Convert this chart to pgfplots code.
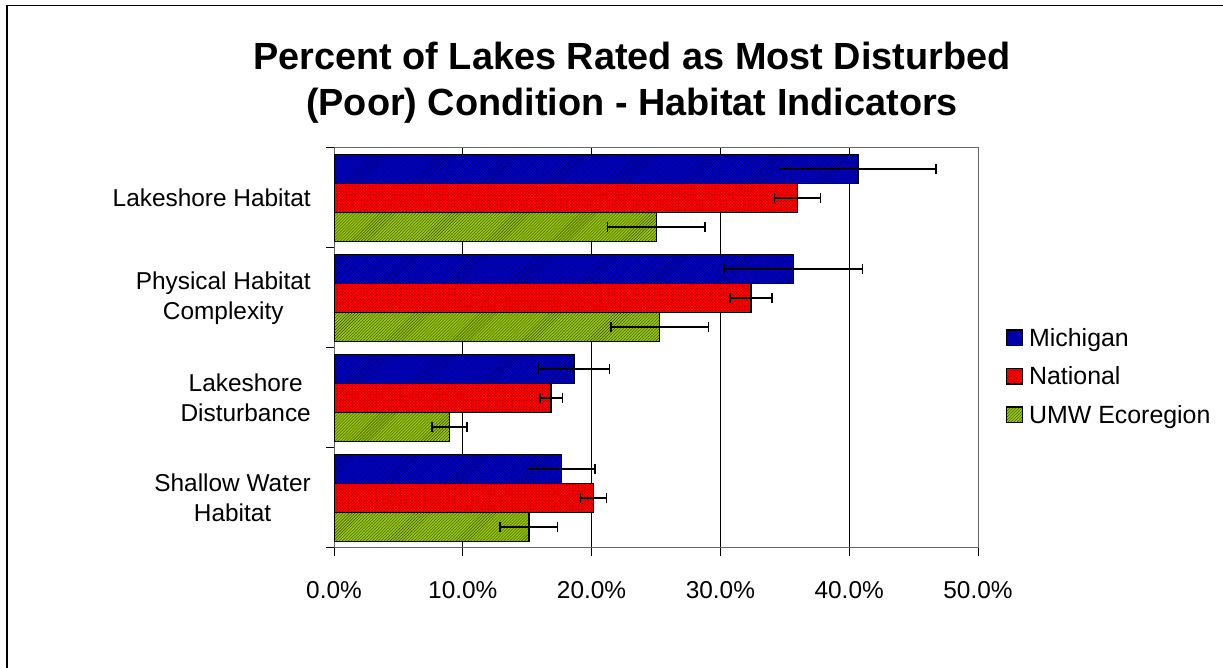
\documentclass[border=0pt]{standalone}
\usepackage{fontspec}
\setmainfont{Liberation Sans}
\usepackage{pgfplots}
\pgfplotsset{compat=1.18}
\usetikzlibrary{patterns}
\definecolor{mich}{RGB}{0,0,204}
\definecolor{michh}{RGB}{0,0,80}
\definecolor{natl}{RGB}{255,0,0}
\definecolor{natlh}{RGB}{120,0,0}
\definecolor{umw}{RGB}{153,204,0}
\definecolor{umwh}{RGB}{50,60,0}
\begin{document}
\begin{tikzpicture}
\useasboundingbox (0,0) rectangle (1223bp,668bp);
\draw[line width=1.3bp] (7bp,0) -- (7bp,662.5bp) -- (1223bp,662.5bp);
\node[align=center, font=\fontsize{38}{46}\selectfont\bfseries] at (632bp,585bp)
  {Percent of Lakes Rated as Most Disturbed\\(Poor) Condition - Habitat Indicators};
\begin{axis}[
  at={(334bp,120bp)}, anchor=south west, scale only axis,
  width=644bp, height=400bp,
  xbar, bar width=0.29,
  xmin=0, xmax=50, ymin=-0.5, ymax=3.5,
  xtick={0,10,20,30,40,50},
  xticklabels={0.0\%,10.0\%,20.0\%,30.0\%,40.0\%,50.0\%},
  ytick={-0.5,0.5,1.5,2.5,3.5},
  yticklabels={,,,,},
  extra y ticks={0,1,2,3},
  extra y tick labels={Shallow Water\\Habitat,Lakeshore\\Disturbance,Physical Habitat\\Complexity,Lakeshore Habitat},
  extra y tick style={major tick length=0pt},
  tick align=outside, major tick length=8bp,
  tick pos=left,
  xmajorgrids, grid style={black, line width=0.8bp},
  axis line style={black!60, line width=1bp},
  tick style={black, line width=1bp},
  ticklabel style={font=\fontsize{24.5}{30}\selectfont},
  yticklabel style={align=center, inner sep=0pt, xshift=-23bp},
  xticklabel style={inner sep=0pt, yshift=-25bp},
  legend cell align=left,
  legend style={at={(1.038,0.56)}, anchor=north west, draw=none, fill=none,
    font=\fontsize{25}{29}\selectfont, row sep=15bp, nodes={inner sep=2bp},
    /tikz/every odd column/.append style={column sep=4bp}},
  legend image code/.code={\draw[#1, line width=1.5bp] (0bp,-7.5bp) rectangle (16bp,8bp);},
  error bars/error mark=|,
]
\addplot[draw=black, line width=1.5bp, fill=mich, postaction={pattern=north east lines, pattern color=michh}, bar shift=0.29,
  error bars/.cd, x dir=both, x explicit, error mark=|, error bar style={black, line width=1.5bp}, error mark options={black, line width=1.5bp, mark size=5bp}]
  coordinates {(40.67,3) +- (6.07,0) (35.66,2) +- (5.37,0) (18.63,1) +- (2.75,0) (17.65,0) +- (2.62,0)};
\addlegendentry{Michigan}
\addplot[draw=black, line width=1.5bp, fill=natl, postaction={pattern=crosshatch dots, pattern color=natlh}, bar shift=0,
  error bars/.cd, x dir=both, x explicit, error mark=|, error bar style={black, line width=1.5bp}, error mark options={black, line width=1.5bp, mark size=5bp}]
  coordinates {(35.99,3) +- (1.80,0) (32.38,2) +- (1.62,0) (16.86,1) +- (0.87,0) (20.14,0) +- (1.00,0)};
\addlegendentry{National}
\addplot[draw=black, line width=1.5bp, fill=umw, postaction={pattern=north east lines, pattern color=umwh}, bar shift=-0.29,
  error bars/.cd, x dir=both, x explicit, error mark=|, error bar style={black, line width=1.5bp}, error mark options={black, line width=1.5bp, mark size=5bp}]
  coordinates {(25.02,3) +- (3.78,0) (25.28,2) +- (3.78,0) (8.97,1) +- (1.37,0) (15.13,0) +- (2.24,0)};
\addlegendentry{UMW Ecoregion}
\end{axis}
\end{tikzpicture}
\end{document}
